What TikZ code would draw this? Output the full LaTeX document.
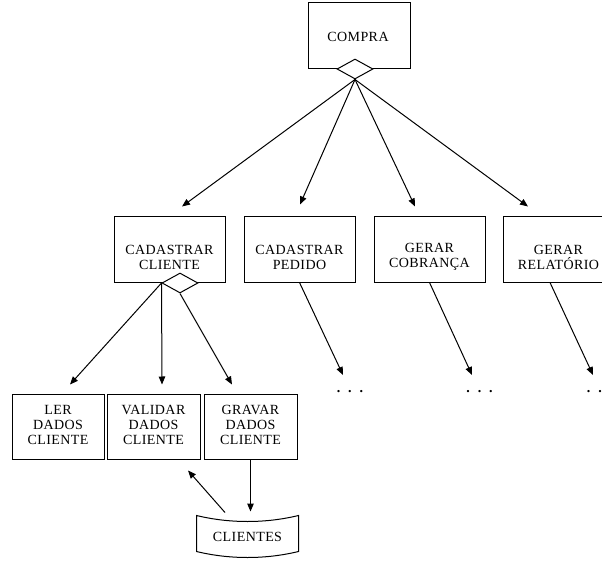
\documentclass[tikz,border=0pt]{standalone}
\usepackage{fontspec}
\setmainfont{Liberation Serif}[LetterSpace=3]
\usetikzlibrary{arrows.meta,shapes.geometric}

\begin{document}
\begin{tikzpicture}[x=1pt,y=-1pt,line width=1pt,
  box/.style={draw,rectangle,inner sep=0pt,minimum width=#1,minimum height=65pt},
  box/.default=111pt,
  txt/.style={font=\fontsize{14}{15}\selectfont,align=center,inner sep=0pt},
  branchmark/.style={draw,diamond,fill=white,inner sep=0pt,minimum width=36pt,minimum height=20pt},
  flow/.style={-{Triangle[length=8pt,width=6.5pt]}},
  more/.style={font=\fontsize{14}{15}\selectfont\bfseries,anchor=base,inner sep=0pt}]

\useasboundingbox (0,0) rectangle (602,561);
\clip (0,0) rectangle (602,561);

% top module
\node[box=102pt,minimum height=66pt] (compra) at (359,36) {};
\node[txt] at (358,37) {COMPRA};
\node[branchmark] (dA) at (355,69) {};

% second level
\node[box] (cc) at (169.5,249.5) {};
\node[txt] at (169.5,257) {CADASTRAR\\CLIENTE};
\node[box] (cp) at (299.5,249.5) {};
\node[txt] at (299.5,257) {CADASTRAR\\PEDIDO};
\node[box] (gc) at (429.5,249.5) {};
\node[txt] at (429.5,257) {GERAR\\COBRANÇA};
\node[box] (gr) at (558.5,249.5) {};
\node[txt] at (558.5,257) {GERAR\\RELATÓRIO};
\node[branchmark] (dB) at (180,283) {};

% third level
\node[box=92pt] (ler) at (58,426.5) {};
\node[txt] at (58,425) {LER\\DADOS\\CLIENTE};
\node[box=93pt] (validar) at (153.5,426.5) {};
\node[txt] at (153.5,425) {VALIDAR\\DADOS\\CLIENTE};
\node[box=93pt] (gravar) at (250.5,426.5) {};
\node[txt] at (250.5,425) {GRAVAR\\DADOS\\CLIENTE};

% continuation marks
\node[more] (dotsA) at (350,392) {.\hspace{8pt}.\hspace{8pt}.};
\node[more] (dotsB) at (479.5,392) {.\hspace{8pt}.\hspace{8pt}.};
\node[more] (dotsC) at (600,392) {.\hspace{8pt}.\hspace{8pt}.};

% data store
\node[txt,minimum width=101pt,minimum height=42pt] (clientes) at (247.5,537) {CLIENTES};
\draw (clientes.north west) .. controls +(33,8) and +(-33,8) .. (clientes.north east)
  -- ([yshift=-36pt]clientes.north east)
  .. controls +(-33,8) and +(33,8) .. ([yshift=-36pt]clientes.north west) -- cycle;

% connectors from COMPRA
\draw[flow] (dA.south) -- ([xshift=12.5pt,yshift=10pt]cc.north);
\draw[flow] (dA.south) -- ([xshift=0.5pt,yshift=12pt]cp.north);
\draw[flow] (dA.south) -- ([xshift=-14.5pt,yshift=10pt]gc.north);
\draw[flow] (dA.south) -- ([xshift=-30.5pt,yshift=10pt]gr.north);

% connectors from CADASTRAR CLIENTE
\draw[flow] (dB.west) -- ([xshift=12pt,yshift=9pt]ler.north);
\draw[flow] (dB.west) -- ([xshift=8.5pt,yshift=9pt]validar.north);
\draw[flow] (dB.south) -- ([xshift=-18.5pt,yshift=9pt]gravar.north);

% connectors to the continuation marks
\draw[flow] (cp.south) -- ([xshift=-7pt,yshift=17pt]dotsA.base);
\draw[flow] (gc.south) -- ([xshift=-7.5pt,yshift=17pt]dotsB.base);
\draw[flow] ([xshift=-8.5pt]gr.south) -- ([xshift=-7pt,yshift=17pt]dotsC.base);

% data store access
\draw[flow] (gravar.south) -- ([xshift=3pt,yshift=4pt]clientes.north);
\draw[flow] ([xshift=-22.5pt,yshift=3pt]clientes.north) -- ([xshift=34.5pt,yshift=-11pt]validar.south);

\end{tikzpicture}
\end{document}
